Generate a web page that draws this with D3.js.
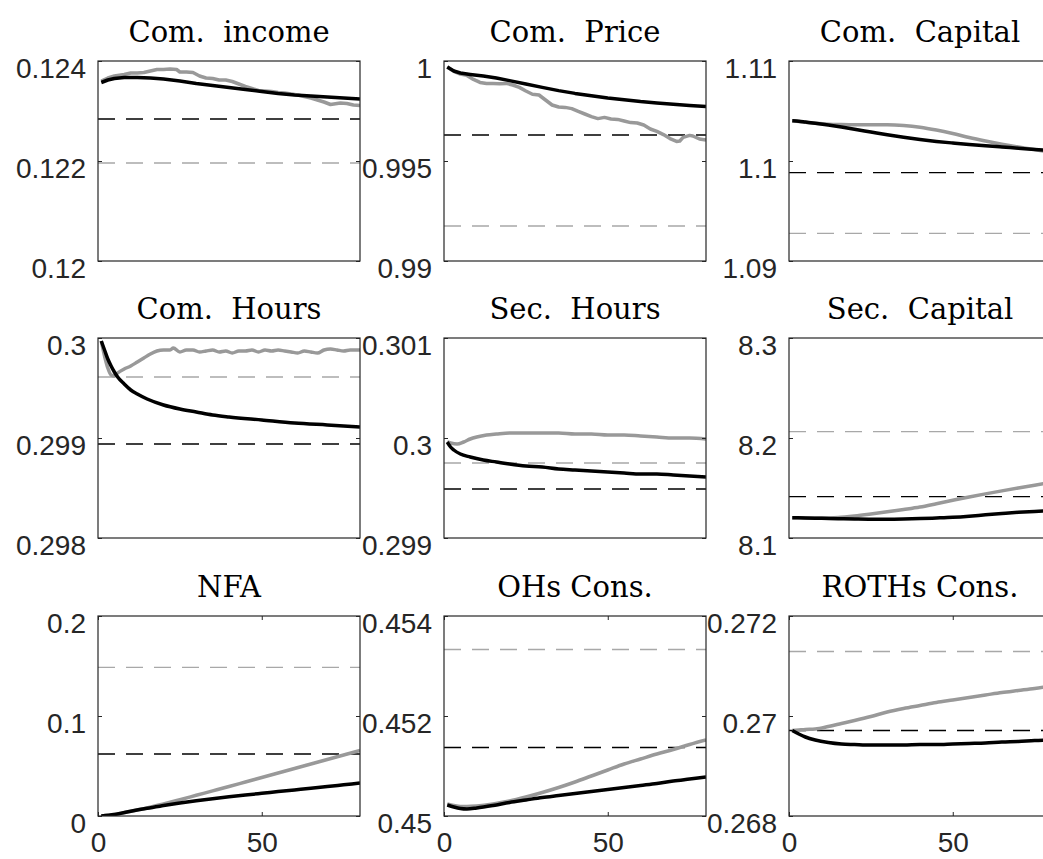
<!DOCTYPE html>
<html>
<head>
<meta charset="utf-8">
<script src="https://cdn.jsdelivr.net/npm/d3@7/dist/d3.min.js"></script>
<style>
  body { margin: 0; background: #fff; }
  svg { display: block; }
</style>
</head>
<body>
<div id="chart"></div>
<script>
// ---- data ----
const xDomain = [0, 80];
const xTicks = [0, 50];
const tS = [1, 3, 5, 8, 12, 16, 20, 25, 30, 35, 40, 45, 50, 55, 60, 65, 70, 75, 80];

// Com. income
const incomeBlack = [0.12357, 0.12362, 0.12365, 0.12367, 0.12367, 0.12366, 0.12364, 0.12360, 0.12355, 0.12351, 0.12347, 0.12343, 0.12339, 0.12335, 0.12332, 0.12330, 0.12328, 0.12326, 0.12324];
const incomeGrayT = [1, 3, 5, 8, 10, 12, 14, 16, 18, 20, 22, 24, 25, 27, 29, 31, 33, 35, 37, 39, 41, 43, 45, 47, 49, 51, 53, 55, 57, 59, 61, 63, 65, 67, 69, 71, 72, 74, 76, 78, 80];
const incomeGray = [0.12360, 0.12366, 0.12370, 0.12373, 0.12376, 0.12376, 0.12377, 0.12380, 0.12383, 0.12383, 0.12384, 0.12383, 0.12378, 0.12378, 0.12377, 0.12370, 0.12366, 0.12365, 0.12362, 0.12362, 0.12359, 0.12354, 0.12349, 0.12345, 0.12341, 0.12340, 0.12339, 0.12337, 0.12336, 0.12334, 0.12332, 0.12329, 0.12326, 0.12322, 0.12318, 0.12313, 0.12314, 0.12316, 0.12315, 0.12312, 0.12311];

// Com. Price
const priceBlack = [0.99970, 0.99950, 0.99940, 0.99933, 0.99925, 0.99915, 0.99902, 0.99885, 0.99868, 0.99852, 0.99838, 0.99826, 0.99815, 0.99806, 0.99797, 0.99790, 0.99784, 0.99778, 0.99773];
const priceGrayT = [1, 3, 5, 7, 9, 11, 13, 15, 17, 19, 21, 23, 25, 27, 29, 31, 33, 35, 37, 39, 41, 43, 45, 47, 49, 51, 53, 55, 57, 59, 61, 63, 65, 67, 69, 71, 72, 73, 75, 76, 78, 80];
const priceGray = [0.99970, 0.99948, 0.99935, 0.99928, 0.99908, 0.99893, 0.99888, 0.99887, 0.99886, 0.99888, 0.99880, 0.99868, 0.99850, 0.99834, 0.99830, 0.99805, 0.99780, 0.99770, 0.99768, 0.99762, 0.99748, 0.99735, 0.99722, 0.99712, 0.99718, 0.99710, 0.99708, 0.99700, 0.99692, 0.99690, 0.99680, 0.99660, 0.99648, 0.99632, 0.99612, 0.99598, 0.99600, 0.99618, 0.99628, 0.99625, 0.99610, 0.99605];

// Com. Capital
const capitalBlack = [1.10403, 1.10398, 1.10390, 1.10378, 1.10360, 1.10340, 1.10318, 1.10290, 1.10262, 1.10237, 1.10215, 1.10196, 1.10180, 1.10165, 1.10152, 1.10140, 1.10128, 1.10116, 1.10105];
const capitalGray = [1.10403, 1.10395, 1.10388, 1.10378, 1.10368, 1.10364, 1.10362, 1.10362, 1.10362, 1.10355, 1.10338, 1.10310, 1.10275, 1.10235, 1.10200, 1.10168, 1.10140, 1.10115, 1.10085];

// Com. Hours
const hoursBlackT = [1, 2, 3, 4, 5, 6, 8, 10, 12, 15, 20, 25, 30, 35, 40, 50, 60, 70, 80];
const hoursBlack = [0.29997, 0.29988, 0.29979, 0.29972, 0.29966, 0.29961, 0.29954, 0.29948, 0.29944, 0.29939, 0.29933, 0.29929, 0.29926, 0.29923, 0.29921, 0.29918, 0.29915, 0.29913, 0.29911];
const hoursGrayT = [1, 2, 3, 4, 5, 6, 8, 10, 12, 14, 16, 18, 20, 22, 23, 25, 27, 29, 31, 33, 35, 37, 39, 41, 43, 45, 47, 49, 51, 53, 55, 57, 59, 61, 63, 65, 67, 69, 71, 73, 75, 77, 79, 80];
const hoursGray = [0.29997, 0.29982, 0.29970, 0.29963, 0.29962, 0.29965, 0.29969, 0.29972, 0.29976, 0.29980, 0.29984, 0.29987, 0.29988, 0.29988, 0.29990, 0.29986, 0.29988, 0.29988, 0.29986, 0.29987, 0.29988, 0.29986, 0.29987, 0.29985, 0.29987, 0.29987, 0.29988, 0.29986, 0.29988, 0.29987, 0.29988, 0.29987, 0.29986, 0.29985, 0.29987, 0.29986, 0.29985, 0.29988, 0.29989, 0.29988, 0.29987, 0.29988, 0.29988, 0.29988];

// Sec. Hours
const secHoursBlackT = [1, 2, 3, 5, 8, 12, 16, 20, 25, 30, 35, 40, 45, 50, 55, 60, 65, 70, 75, 80];
const secHoursBlack = [0.29996, 0.29991, 0.29988, 0.29984, 0.29981, 0.29978, 0.29976, 0.29974, 0.29972, 0.29971, 0.29969, 0.29968, 0.29967, 0.29966, 0.29965, 0.29964, 0.29964, 0.29963, 0.29962, 0.29961];
const secHoursGrayT = [1, 2, 4, 6, 8, 10, 13, 16, 20, 25, 30, 35, 40, 45, 50, 55, 60, 65, 70, 75, 80];
const secHoursGray = [0.29996, 0.29995, 0.29994, 0.29996, 0.29999, 0.30001, 0.30003, 0.30004, 0.30005, 0.30005, 0.30005, 0.30005, 0.30004, 0.30004, 0.30003, 0.30003, 0.30002, 0.30001, 0.30000, 0.30000, 0.29999];

// Sec. Capital
const secCapT = [1, 5, 10, 15, 20, 25, 30, 35, 40, 45, 50, 55, 60, 65, 70, 75, 80];
const secCapBlack = [8.1203, 8.1201, 8.1197, 8.1193, 8.1190, 8.1188, 8.1188, 8.1190, 8.1194, 8.1200, 8.1207, 8.1218, 8.1232, 8.1245, 8.1257, 8.1266, 8.1273];
const secCapGray = [8.1203, 8.1201, 8.1200, 8.1205, 8.1220, 8.1240, 8.1262, 8.1285, 8.1310, 8.1343, 8.1377, 8.1410, 8.1441, 8.1471, 8.1500, 8.1528, 8.1555];

// NFA
const nfaT = [1, 5, 10, 15, 20, 25, 30, 35, 40, 45, 50, 55, 60, 65, 70, 75, 80];
const nfaBlack = [0.0000, 0.0015, 0.0048, 0.0078, 0.0104, 0.0129, 0.0152, 0.0173, 0.0192, 0.0210, 0.0227, 0.0244, 0.0261, 0.0278, 0.0294, 0.0312, 0.0330];
const nfaGray = [0.0000, 0.0015, 0.0048, 0.0080, 0.0120, 0.0163, 0.0207, 0.0251, 0.0295, 0.0340, 0.0385, 0.0430, 0.0475, 0.0520, 0.0565, 0.0610, 0.0655];

// OHs Cons.
const ohsT = [1, 3, 5, 7, 10, 15, 20, 25, 30, 35, 40, 45, 50, 55, 60, 65, 70, 75, 80];
const ohsBlack = [0.45022, 0.45018, 0.45015, 0.45014, 0.45016, 0.45021, 0.45027, 0.45032, 0.45037, 0.45041, 0.45045, 0.45049, 0.45053, 0.45057, 0.45061, 0.45065, 0.45070, 0.45074, 0.45078];
const ohsGray = [0.45024, 0.45021, 0.45019, 0.45019, 0.45020, 0.45024, 0.45030, 0.45038, 0.45047, 0.45057, 0.45068, 0.45080, 0.45092, 0.45104, 0.45114, 0.45124, 0.45133, 0.45143, 0.45152];

// ROTHs Cons.
const rothsBlack = [0.26971, 0.26964, 0.26958, 0.26952, 0.26947, 0.26944, 0.26943, 0.26942, 0.26942, 0.26942, 0.26943, 0.26943, 0.26944, 0.26945, 0.26946, 0.26948, 0.26949, 0.26951, 0.26952];
const rothsGray = [0.26971, 0.26972, 0.26973, 0.26974, 0.26979, 0.26985, 0.26991, 0.26999, 0.27008, 0.27015, 0.27021, 0.27027, 0.27032, 0.27037, 0.27042, 0.27047, 0.27051, 0.27055, 0.27060];

// titles, y ranges, tick labels, dashed reference levels
const titles = ["Com.  income", "Com.  Price", "Com.  Capital", "Com.  Hours", "Sec.  Hours", "Sec.  Capital", "NFA", "OHs Cons.", "ROTHs Cons."];
const yDomains = [[0.12, 0.124], [0.99, 1], [1.09, 1.11], [0.298, 0.3], [0.299, 0.301], [8.1, 8.3], [0, 0.2], [0.45, 0.454], [0.268, 0.272]];
const yTickLabels = [
  ["0.12", "0.122", "0.124"], ["0.99", "0.995", "1"], ["1.09", "1.1", "1.11"],
  ["0.298", "0.299", "0.3"], ["0.299", "0.3", "0.301"], ["8.1", "8.2", "8.3"],
  ["0", "0.1", "0.2"], ["0.45", "0.452", "0.454"], ["0.268", "0.27", "0.272"]
];
const dashBlack = [0.12284, 0.99630, 1.09883, 0.29894, 0.29949, 8.1413, 0.0620, 0.45137, 0.26971];
const dashGray = [0.12196, 0.99175, 1.09277, 0.29961, 0.29975, 8.2063, 0.1487, 0.45333, 0.27129];

const blackSeries = [
  [tS, incomeBlack], [tS, priceBlack], [tS, capitalBlack],
  [hoursBlackT, hoursBlack], [secHoursBlackT, secHoursBlack], [secCapT, secCapBlack],
  [nfaT, nfaBlack], [ohsT, ohsBlack], [tS, rothsBlack]
];
const graySeries = [
  [incomeGrayT, incomeGray], [priceGrayT, priceGray], [tS, capitalGray],
  [hoursGrayT, hoursGray], [secHoursGrayT, secHoursGray], [secCapT, secCapGray],
  [nfaT, nfaGray], [ohsT, ohsGray], [tS, rothsGray]
];
const smoothPanels = [false, false, true, true, true, true, true, true, true];

// ---- layout ----
const width = 1043, height = 859;
const colLeft = [98, 444, 789];
const rowTop = [61, 338, 616];
const axW = 262, axH = 200;
const axisColor = "#262626";
const grayColor = "#999999";
const lightGray = "#a8a8a8";

const svg = d3.select("#chart").append("svg")
  .attr("width", width)
  .attr("height", height);

const defs = svg.append("defs");

titles.forEach((title, i) => {
  const row = Math.floor(i / 3), col = i % 3;
  const left = colLeft[col], top = rowTop[row];
  const g = svg.append("g").attr("transform", `translate(${left},${top})`);

  const x = d3.scaleLinear().domain(xDomain).range([0, axW]);
  const y = d3.scaleLinear().domain(yDomains[i]).range([axH, 0]);
  const yTicks = d3.range(3).map(k => yDomains[i][0] + k * (yDomains[i][1] - yDomains[i][0]) / 2);

  defs.append("clipPath").attr("id", `clip${i}`)
    .append("rect").attr("width", axW).attr("height", axH);

  const plot = g.append("g").attr("clip-path", `url(#clip${i})`);

  // dashed reference levels
  [[dashGray[i], lightGray], [dashBlack[i], "#000"]].forEach(([v, c]) => {
    plot.append("line")
      .attr("x1", 0).attr("x2", axW)
      .attr("y1", y(v)).attr("y2", y(v))
      .attr("stroke", c)
      .attr("stroke-width", 1.3)
      .attr("stroke-dasharray", "17,11");
  });

  const line = d3.line()
    .x(d => x(d[0]))
    .y(d => y(d[1]))
    .curve(smoothPanels[i] ? d3.curveMonotoneX : d3.curveLinear);

  const gs = graySeries[i], bs = blackSeries[i];
  plot.append("path")
    .datum(gs[0].map((t, k) => [t, gs[1][k]]))
    .attr("fill", "none")
    .attr("stroke", grayColor)
    .attr("stroke-width", 3.5)
    .attr("stroke-linejoin", "round")
    .attr("d", line);

  plot.append("path")
    .datum(bs[0].map((t, k) => [t, bs[1][k]]))
    .attr("fill", "none")
    .attr("stroke", "#000")
    .attr("stroke-width", 3.5)
    .attr("stroke-linejoin", "round")
    .attr("d", line);

  // y axis left with inward ticks, mirrored on the right
  const yAxisL = g.append("g")
    .call(d3.axisLeft(y).tickValues(yTicks).tickSize(-4).tickPadding(12)
      .tickFormat((d, k) => yTickLabels[i][k]));
  const yAxisR = g.append("g")
    .attr("transform", `translate(${axW},0)`)
    .call(d3.axisRight(y).tickValues(yTicks).tickSize(-4).tickFormat(""));

  [yAxisL, yAxisR].forEach(a => {
    a.select(".domain").remove();
    a.selectAll(".tick line").attr("stroke", axisColor);
  });
  yAxisL.selectAll(".tick text")
    .attr("fill", axisColor)
    .attr("dy", "0.6em")
    .style("font-family", "'Liberation Sans', Arial, sans-serif")
    .style("font-size", "28px");

  if (row === 2) {
    const xAxisB = g.append("g")
      .attr("transform", `translate(0,${axH})`)
      .call(d3.axisBottom(x).tickValues(xTicks).tickSize(-4).tickPadding(16));
    const xAxisT = g.append("g")
      .call(d3.axisTop(x).tickValues(xTicks).tickSize(-4).tickFormat(""));
    [xAxisB, xAxisT].forEach(a => {
      a.select(".domain").remove();
      a.selectAll(".tick line").attr("stroke", axisColor);
    });
    xAxisB.selectAll(".tick text")
      .attr("fill", axisColor)
      .style("font-family", "'Liberation Sans', Arial, sans-serif")
      .style("font-size", "28px");
  }

  // box
  g.append("rect")
    .attr("width", axW).attr("height", axH)
    .attr("fill", "none")
    .attr("stroke", axisColor)
    .attr("stroke-width", 1.2);

  g.append("text")
    .attr("x", axW / 2)
    .attr("y", -19)
    .attr("text-anchor", "middle")
    .attr("fill", "#000")
    .style("font-family", "'DejaVu Serif', serif")
    .style("font-size", "29px")
    .style("white-space", "pre")
    .text(title);
});
</script>
</body>
</html>
